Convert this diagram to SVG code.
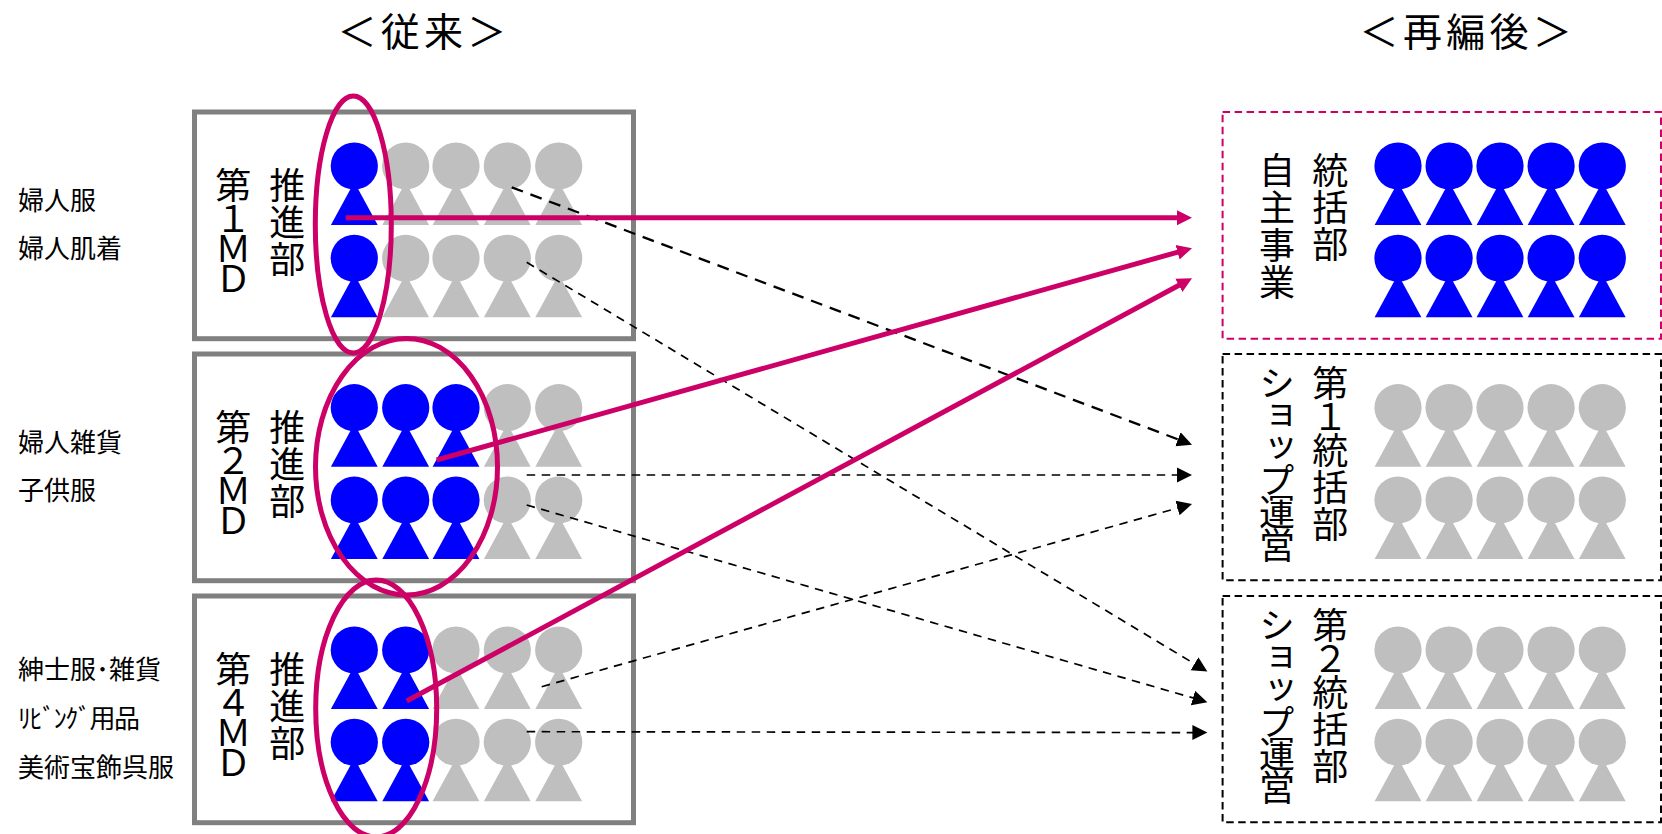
<svg xmlns="http://www.w3.org/2000/svg" width="1662" height="834" viewBox="0 0 1662 834">
<style>
text{font-family:"Noto Sans CJK JP","Noto Sans",sans-serif;fill:#000}
.title{font-size:39px;letter-spacing:4.3px}
.lab{font-size:26px}
.v{font-size:36px;writing-mode:vertical-rl;text-orientation:mixed}
.first{letter-spacing:-2.3px}
.md{letter-spacing:-6px}
.wide{letter-spacing:1px}
.wider{letter-spacing:1.6px}
.tight{letter-spacing:-3.6px}
.num{letter-spacing:-2.5px}
.box{fill:#fff;stroke:#808080;stroke-width:5}
.dbox{fill:#fff;stroke:#000;stroke-width:2;stroke-dasharray:7.5 4.5}
.mbox{fill:#fff;stroke:#CC0066;stroke-width:2;stroke-dasharray:7.5 4.5}
.ring{fill:none;stroke:#CC0066;stroke-width:5}
.b{fill:#0000FF}
.g{fill:#BFBFBF}
.mline{fill:none;stroke:#CC0066;stroke-width:5;marker-end:url(#am)}
.kthick{fill:none;stroke:#000;stroke-width:2.3;stroke-dasharray:12 8;marker-end:url(#ak)}
.kline{fill:none;stroke:#000;stroke-width:1.7;stroke-dasharray:8.5 6.5;marker-end:url(#ak)}
</style>
<defs>
<g id="p"><circle cx="0" cy="0" r="23.6"/><path d="M0,16L23.4,59L-23.4,59Z"/></g>
<marker id="am" markerUnits="userSpaceOnUse" markerWidth="16" markerHeight="16" refX="7" refY="8" orient="auto"><path d="M0,0.5L15,8L0,15.5Z" fill="#CC0066"/></marker>
<marker id="ak" markerUnits="userSpaceOnUse" markerWidth="16" markerHeight="16" refX="7" refY="8" orient="auto"><path d="M0,0.5L15,8L0,15.5Z" fill="#000"/></marker>
</defs>
<rect width="1662" height="834" fill="#fff"/>
<g id="title-old"><text class="title" x="337.4" y="46">＜従来＞</text></g>
<g id="title-new"><text class="title" x="1359.6" y="46">＜再編後＞</text></g>
<g id="labels-1"><text class="lab" x="18" y="210">婦人服</text><text class="lab" x="18" y="258">婦人肌着</text></g>
<g id="labels-2"><text class="lab" x="18" y="452">婦人雑貨</text><text class="lab" x="18" y="500">子供服</text></g>
<g id="labels-4"><text class="lab" x="18" y="679">紳士服･雑貨</text><text class="lab" x="18" y="728" textLength="122">ﾘﾋﾞﾝｸﾞ用品</text><text class="lab" x="18" y="777">美術宝飾呉服</text></g>
<g id="md1">
<rect class="box" x="194.5" y="112" width="439" height="226.7"/>
<text class="v" x="233.3" y="167"><tspan class="first">第</tspan><tspan class="md">１ＭＤ</tspan></text><text class="v wide" x="287.3" y="167">推進部</text>
<g class="b"><use href="#p" x="354.3" y="166"/><use href="#p" x="354.3" y="258.3"/></g>
<g class="g"><use href="#p" x="405.7" y="166"/><use href="#p" x="456" y="166"/><use href="#p" x="507.3" y="166"/><use href="#p" x="558.7" y="166"/><use href="#p" x="405.7" y="258.3"/><use href="#p" x="456" y="258.3"/><use href="#p" x="507.3" y="258.3"/><use href="#p" x="558.7" y="258.3"/></g>
</g>
<g id="md2">
<rect class="box" x="194.5" y="354" width="439" height="226.7"/>
<text class="v" x="233.3" y="409"><tspan class="first">第</tspan><tspan class="md">２ＭＤ</tspan></text><text class="v wide" x="287.3" y="409">推進部</text>
<g class="b"><use href="#p" x="354.3" y="407.7"/><use href="#p" x="405.7" y="407.7"/><use href="#p" x="456" y="407.7"/><use href="#p" x="354.3" y="500"/><use href="#p" x="405.7" y="500"/><use href="#p" x="456" y="500"/></g>
<g class="g"><use href="#p" x="507.3" y="407.7"/><use href="#p" x="558.7" y="407.7"/><use href="#p" x="507.3" y="500"/><use href="#p" x="558.7" y="500"/></g>
</g>
<g id="md4">
<rect class="box" x="194.5" y="596" width="439" height="226.7"/>
<text class="v" x="233.3" y="651"><tspan class="first">第</tspan><tspan class="md">４ＭＤ</tspan></text><text class="v wide" x="287.3" y="651">推進部</text>
<g class="b"><use href="#p" x="354.3" y="650"/><use href="#p" x="405.7" y="650"/><use href="#p" x="354.3" y="742.3"/><use href="#p" x="405.7" y="742.3"/></g>
<g class="g"><use href="#p" x="456" y="650"/><use href="#p" x="507.3" y="650"/><use href="#p" x="558.7" y="650"/><use href="#p" x="456" y="742.3"/><use href="#p" x="507.3" y="742.3"/><use href="#p" x="558.7" y="742.3"/></g>
</g>
<g id="own-business">
<rect class="mbox" x="1222.6" y="112" width="438.4" height="226.7"/>
<text class="v wider" x="1277" y="152">自主事業</text><text class="v wide" x="1330.2" y="152">統括部</text>
<g class="b"><use href="#p" x="1398" y="166"/><use href="#p" x="1449.1" y="166"/><use href="#p" x="1500" y="166"/><use href="#p" x="1551.1" y="166"/><use href="#p" x="1602.3" y="166"/><use href="#p" x="1398" y="258.3"/><use href="#p" x="1449.1" y="258.3"/><use href="#p" x="1500" y="258.3"/><use href="#p" x="1551.1" y="258.3"/><use href="#p" x="1602.3" y="258.3"/></g>
</g>
<g id="shop-1">
<rect class="dbox" x="1222.6" y="354" width="438.4" height="226.3"/>
<text class="v tight" x="1277" y="365">ショップ運営</text><text class="v wide" x="1330.2" y="365"><tspan class="num">第１</tspan>統括部</text>
<g class="g"><use href="#p" x="1398" y="407.7"/><use href="#p" x="1449.1" y="407.7"/><use href="#p" x="1500" y="407.7"/><use href="#p" x="1551.1" y="407.7"/><use href="#p" x="1602.3" y="407.7"/><use href="#p" x="1398" y="500"/><use href="#p" x="1449.1" y="500"/><use href="#p" x="1500" y="500"/><use href="#p" x="1551.1" y="500"/><use href="#p" x="1602.3" y="500"/></g>
</g>
<g id="shop-2">
<rect class="dbox" x="1222.6" y="596" width="438.4" height="226.3"/>
<text class="v tight" x="1277" y="607">ショップ運営</text><text class="v wide" x="1330.2" y="607"><tspan class="num">第２</tspan>統括部</text>
<g class="g"><use href="#p" x="1398" y="650"/><use href="#p" x="1449.1" y="650"/><use href="#p" x="1500" y="650"/><use href="#p" x="1551.1" y="650"/><use href="#p" x="1602.3" y="650"/><use href="#p" x="1398" y="742.3"/><use href="#p" x="1449.1" y="742.3"/><use href="#p" x="1500" y="742.3"/><use href="#p" x="1551.1" y="742.3"/><use href="#p" x="1602.3" y="742.3"/></g>
</g>
<g id="rings">
<ellipse id="ring-1" class="ring" cx="353.3" cy="224.5" rx="38" ry="128.5"/>
<ellipse id="ring-2" class="ring" cx="406.5" cy="466.7" rx="91" ry="128.3"/>
<ellipse id="ring-4" class="ring" cx="376.2" cy="708.5" rx="60.5" ry="128.5"/>
</g>
<g id="connectors">
<path class="kthick" d="M511.7,187.3L1184.5,441.8"/>
<path class="kline" d="M526.7,262.3L1200.5,667.4"/>
<path class="kline" d="M526.7,475L1184,475"/>
<path class="kline" d="M526.7,505L1199.7,699.9"/>
<path class="kline" d="M541.7,686.7L1184.3,506.2"/>
<path class="kline" d="M526.7,731.7L1199.4,732.6"/>
<path class="mline" d="M345.7,217.7L1184,217.7"/>
<path class="mline" d="M436.7,460L1184.3,250.3"/>
<path class="mline" d="M406.7,701L1185,282"/>
</g>
</svg>
